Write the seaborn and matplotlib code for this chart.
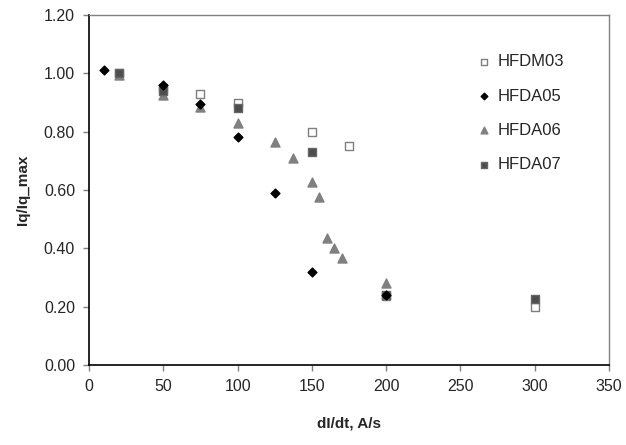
import matplotlib
matplotlib.use("Agg")
import matplotlib.pyplot as plt
import seaborn as sns

# ── data ─────────────────────────────────────────────────────────────────────
HFDM03_X = [20, 50, 75, 100, 150, 175, 200, 300]
HFDM03_Y = [1.00, 0.95, 0.93, 0.90, 0.80, 0.75, 0.235, 0.20]

HFDA05_X = [10, 50, 75, 100, 125, 150, 200]
HFDA05_Y = [1.01, 0.96, 0.895, 0.78, 0.59, 0.32, 0.24]

HFDA06_X = [20, 50, 75, 100, 125, 137, 150, 155, 160, 165, 170, 200]
HFDA06_Y = [0.995, 0.925, 0.885, 0.83, 0.765, 0.71, 0.627, 0.576, 0.437, 0.40, 0.367, 0.28]

HFDA07_X = [20, 50, 100, 150, 200, 300]
HFDA07_Y = [1.00, 0.94, 0.88, 0.73, 0.24, 0.225]

X_TICKS = [0, 50, 100, 150, 200, 250, 300, 350]
Y_TICKS = [0.0, 0.2, 0.4, 0.6, 0.8, 1.0, 1.2]

sns.set_style("white")
plt.rcParams["font.family"] = ["Liberation Sans", "DejaVu Sans"]

fig = plt.figure(figsize=(6.26, 4.45), dpi=100)
ax = fig.add_axes([89 / 626, 1 - 365 / 445, 520 / 626, 350 / 445])

# (name, x, y, marker, face, edge, size, zorder)
series = [
    ("HFDM03", HFDM03_X, HFDM03_Y, "s", "white", "#7f7f7f", 28, 2),
    ("HFDA06", HFDA06_X, HFDA06_Y, "^", "#808080", "#808080", 42, 3),
    ("HFDA07", HFDA07_X, HFDA07_Y, "s", "#4d4d4d", "#666666", 28, 4),
    ("HFDA05", HFDA05_X, HFDA05_Y, "D", "black", "black", 20, 5),
]
for name, xs, ys, mk, fc, ec, sz, z in series:
    sns.scatterplot(x=xs, y=ys, marker=mk, color=fc, edgecolor=ec, linewidth=1,
                    s=sz, zorder=z, label=name, ax=ax)

ax.set_xlim(0, 350)
ax.set_ylim(0, 1.2)
ax.set_xticks(X_TICKS)
ax.set_yticks(Y_TICKS)
ax.set_yticklabels([f"{v:.2f}" for v in Y_TICKS])
ax.tick_params(axis="both", direction="out", length=4, width=1, color="#808080",
               labelsize=11.5, pad=6, bottom=True, left=True)

for side in ["left", "bottom"]:
    ax.spines[side].set_color("black")
    ax.spines[side].set_linewidth(1.2)
for side in ["top", "right"]:
    ax.spines[side].set_color("#808080")
    ax.spines[side].set_linewidth(1)

ax.set_xlabel("dI/dt, A/s", fontsize=11, fontweight="bold", labelpad=16)
ax.set_ylabel("Iq/Iq_max", fontsize=11, fontweight="bold", labelpad=10)

handles, labels = ax.get_legend_handles_labels()
order = [labels.index(n) for n in ["HFDM03", "HFDA05", "HFDA06", "HFDA07"]]
ax.legend([handles[i] for i in order], [labels[i] for i in order],
          loc="upper left", bbox_to_anchor=(0.715, 0.93), frameon=False,
          fontsize=12, markerscale=0.75, handletextpad=0.3, labelspacing=1.15,
          handlelength=1.0)

fig.savefig("out.png", dpi=100)
